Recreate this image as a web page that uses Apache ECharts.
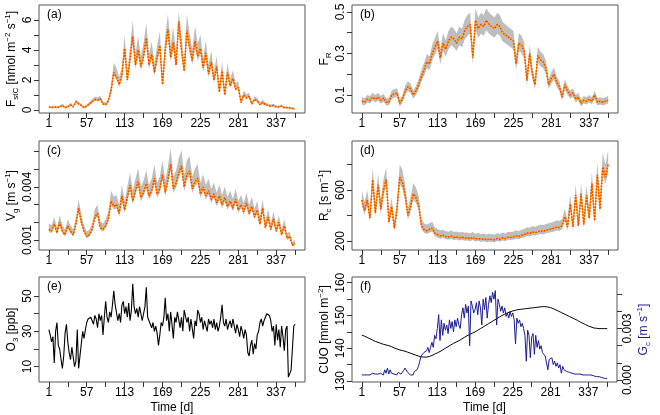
<!DOCTYPE html>
<html>
<head>
<meta charset="utf-8">
<title>ozone fluxes</title>
<script src="https://cdn.jsdelivr.net/npm/echarts@6.0.0/dist/echarts.min.js"></script>
<style>
    html, body { margin: 0; padding: 0; background: #fff; }
    #main { width: 660px; height: 415px; }
</style>
</head>
<body>
<div id="main"></div>
<script>
// day of year (every 4th day)
var days = [1,5,9,13,17,21,25,29,33,37,41,45,49,53,57,61,65,69,73,77,81,85,89,93,97,101,105,109,113,117,121,125,129,133,137,141,145,149,153,157,161,165,169,173,177,181,185,189,193,197,201,205,209,213,217,221,225,229,233,237,241,245,249,253,257,261,265,269,273,277,281,285,289,293,297,301,305,309,313,317,321,325,329,333,337,341,345,349,353,357,361,365];
// every 2nd day, for the ozone and G_c records
var days2 = [1,3,5,7,9,11,13,15,17,19,21,23,25,27,29,31,33,35,37,39,41,43,45,47,49,51,53,55,57,59,61,63,65,67,69,71,73,75,77,79,81,83,85,87,89,91,93,95,97,99,101,103,105,107,109,111,113,115,117,119,121,123,125,127,129,131,133,135,137,139,141,143,145,147,149,151,153,155,157,159,161,163,165,167,169,171,173,175,177,179,181,183,185,187,189,191,193,195,197,199,201,203,205,207,209,211,213,215,217,219,221,223,225,227,229,231,233,235,237,239,241,243,245,247,249,251,253,255,257,259,261,263,265,267,269,271,273,275,277,279,281,283,285,287,289,291,293,295,297,299,301,303,305,307,309,311,313,315,317,319,321,323,325,327,329,331,333,335,337,339,341,343,345,347,349,351,353,355,357,359,361,363,365];
var dayTicks = [1,29,57,85,113,141,169,197,225,253,281,309,337,365];
var dayLabels = [1,57,113,169,225,281,337];

// (a) F_stC [nmol m-2 s-1]
var fstMid = [0.2,0.15,0.2,0.15,0.2,0.3,0.15,0.2,0.35,0.2, 0.55,0.4,0.3,0.15,0.25,0.4,0.55,0.7,0.65,0.75, 0.4,0.35,0.6,1.3,2.5,2.2,1.7,2.3,4.1,2.0, 3.4,4.9,3.0,4.0,2.9,3.6,4.8,3.0,3.7,2.5, 3.5,4.3,1.7,4.0,5.4,3.5,4.5,3.0,5.9,4.0, 2.6,5.3,4.2,3.3,4.6,3.6,4.1,2.8,3.8,2.4, 3.2,2.0,2.9,1.2,2.6,1.0,2.5,1.6,2.1,1.4, 1.5,0.5,1.0,0.8,0.9,0.4,0.7,0.6,0.35,0.5, 0.35,0.3,0.25,0.3,0.2,0.2,0.25,0.15,0.15,0.12, 0.1,0.05];
var fstHi = [0.3,0.25,0.3,0.25,0.3,0.42,0.25,0.3,0.48,0.3, 0.72,0.55,0.42,0.25,0.36,0.55,0.72,0.9,0.84,0.95, 0.55,0.5,0.8,1.7,3.15,2.8,2.2,2.9,5.0,2.55, 4.2,5.95,3.75,4.9,3.6,4.45,5.8,3.75,4.55,3.1, 4.3,5.25,2.2,4.9,6.4,4.3,5.5,3.75,6.6,4.9, 3.25,6.4,5.1,4.05,5.6,4.45,5.0,3.45,4.65,3.0, 3.95,2.5,3.6,1.6,3.25,1.35,3.15,2.05,2.65,1.8, 1.9,0.7,1.3,1.05,1.15,0.55,0.92,0.8,0.5,0.68, 0.5,0.43,0.36,0.42,0.3,0.3,0.36,0.25,0.24,0.21, 0.18,0.12];
var fstLo = [0.17,0.13,0.17,0.13,0.17,0.26,0.13,0.17,0.31,0.17, 0.49,0.35,0.26,0.13,0.22,0.35,0.49,0.62,0.58,0.67, 0.35,0.31,0.53,1.17,2.28,2.0,1.54,2.1,3.75,1.82, 3.1,4.48,2.74,3.66,2.64,3.29,4.38,2.74,3.38,2.28, 3.2,3.93,1.55,3.66,4.93,3.2,4.11,2.74,5.39,3.66, 2.37,4.84,3.84,3.01,4.2,3.29,3.75,2.56,3.47,2.19, 2.92,1.82,2.65,1.09,2.37,0.91,2.28,1.46,1.92,1.28, 1.37,0.45,0.91,0.73,0.82,0.36,0.64,0.55,0.32,0.45, 0.32,0.27,0.22,0.27,0.18,0.18,0.22,0.13,0.13,0.1, 0.08,0.04];

// (b) F_R
var frMid = [0.07,0.065,0.08,0.075,0.09,0.08,0.09,0.075,0.085,0.065, 0.065,0.1,0.105,0.11,0.06,0.08,0.12,0.14,0.13,0.1, 0.12,0.15,0.19,0.22,0.26,0.25,0.3,0.33,0.36,0.28, 0.35,0.32,0.36,0.38,0.37,0.35,0.38,0.37,0.41,0.43, 0.44,0.28,0.46,0.42,0.44,0.43,0.46,0.44,0.43,0.42, 0.44,0.43,0.4,0.39,0.38,0.37,0.36,0.25,0.35,0.34, 0.31,0.17,0.3,0.2,0.15,0.29,0.27,0.26,0.23,0.15, 0.18,0.2,0.16,0.14,0.09,0.15,0.12,0.1,0.11,0.08, 0.09,0.06,0.075,0.07,0.08,0.07,0.1,0.065,0.07,0.065, 0.07,0.075];
var frHi = [0.089,0.084,0.1,0.095,0.111,0.1,0.111,0.095,0.106,0.084, 0.084,0.122,0.128,0.133,0.078,0.1,0.144,0.166,0.155,0.122, 0.144,0.177,0.221,0.254,0.298,0.287,0.342,0.375,0.408,0.32, 0.397,0.364,0.408,0.43,0.419,0.397,0.43,0.419,0.463,0.485, 0.496,0.32,0.518,0.474,0.496,0.485,0.518,0.496,0.485,0.474, 0.496,0.485,0.452,0.441,0.43,0.419,0.408,0.287,0.397,0.386, 0.353,0.199,0.342,0.232,0.177,0.331,0.309,0.298,0.265,0.177, 0.21,0.232,0.188,0.166,0.111,0.177,0.144,0.122,0.133,0.1, 0.111,0.078,0.095,0.089,0.1,0.089,0.122,0.084,0.089,0.084, 0.089,0.095];
var frLo = [0.054,0.05,0.064,0.059,0.073,0.064,0.073,0.059,0.068,0.05, 0.05,0.082,0.087,0.091,0.045,0.064,0.1,0.119,0.11,0.082, 0.1,0.128,0.165,0.192,0.229,0.22,0.266,0.294,0.321,0.248, 0.312,0.284,0.321,0.34,0.33,0.312,0.34,0.33,0.367,0.386, 0.395,0.248,0.413,0.376,0.395,0.386,0.413,0.395,0.386,0.376, 0.395,0.386,0.358,0.349,0.34,0.33,0.321,0.22,0.312,0.303, 0.275,0.146,0.266,0.174,0.128,0.257,0.238,0.229,0.202,0.128, 0.156,0.174,0.137,0.119,0.073,0.128,0.1,0.082,0.091,0.064, 0.073,0.045,0.059,0.054,0.064,0.054,0.082,0.05,0.054,0.05, 0.054,0.059];

// (c) V_g, in 0.001 m s-1
var vgMid = [1.6,1.5,1.9,1.4,2.0,1.5,1.3,1.8,1.5,1.3, 1.9,2.8,2.0,1.5,1.2,1.3,1.6,2.3,2.5,1.7, 1.6,1.8,2.2,3.2,2.9,3.0,2.5,3.5,2.7,3.4, 4.1,3.2,3.8,4.3,3.4,3.7,4.2,3.5,3.8,4.5, 3.6,3.9,4.7,3.7,4.4,5.3,3.9,4.2,4.8,5.2, 4.0,4.7,4.9,3.9,4.3,4.5,3.6,4.0,3.5,3.8, 3.3,3.6,3.1,3.5,3.0,3.4,2.9,3.2,2.8,3.3, 2.7,3.0,2.6,3.1,2.5,2.9,2.3,2.7,1.9,2.8, 1.7,2.3,1.6,2.2,1.5,2.0,1.3,1.8,1.1,1.2, 0.7,0.8];
var vgHi = [1.94,1.83,2.29,1.71,2.4,1.83,1.6,2.17,1.83,1.6, 2.29,3.32,2.4,1.83,1.48,1.6,1.94,2.75,2.98,2.06, 1.94,2.17,2.63,3.78,3.44,3.55,2.98,4.13,3.21,4.01, 4.82,3.78,4.47,5.05,4.01,4.36,4.93,4.13,4.47,5.28, 4.24,4.59,5.51,4.36,5.16,6.2,4.59,4.93,5.62,6.08, 4.7,5.51,5.74,4.59,5.05,5.28,4.24,4.7,4.13,4.47, 3.9,4.24,3.67,4.13,3.55,4.01,3.44,3.78,3.32,3.9, 3.21,3.55,3.09,3.67,2.98,3.44,2.75,3.21,2.29,3.32, 2.06,2.75,1.94,2.63,1.83,2.4,1.6,2.17,1.37,1.48, 0.9,1.02];
var vgLo = [1.47,1.38,1.76,1.28,1.85,1.38,1.19,1.66,1.38,1.19, 1.76,2.61,1.85,1.38,1.09,1.19,1.47,2.14,2.33,1.57, 1.47,1.66,2.04,2.99,2.71,2.8,2.33,3.28,2.52,3.18, 3.85,2.99,3.56,4.04,3.18,3.47,3.94,3.28,3.56,4.23, 3.37,3.66,4.42,3.47,4.13,4.99,3.66,3.94,4.51,4.89, 3.75,4.42,4.61,3.66,4.04,4.23,3.37,3.75,3.28,3.56, 3.09,3.37,2.9,3.28,2.8,3.18,2.71,2.99,2.61,3.09, 2.52,2.8,2.42,2.9,2.33,2.71,2.14,2.52,1.76,2.61, 1.57,2.14,1.47,2.04,1.38,1.85,1.19,1.66,1.0,1.09, 0.62,0.71];

// (d) R_c [s m-1]
var rcMid = [520,440,520,380,680,420,640,450,600,680, 350,470,300,450,700,660,560,400,470,570, 540,480,320,290,280,290,300,260,250,240, 245,235,230,240,228,232,225,230,222,225, 218,228,215,222,212,218,210,215,212,210, 220,214,225,218,230,228,232,240,235,245, 250,262,258,270,265,272,280,275,285,290, 295,300,310,305,320,390,310,490,310,560, 320,570,330,560,380,650,360,720,450,780, 700,800];
var rcHi = [597,508,597,441,777,485,732,519,687,777, 407,541,351,519,799,754,642,463,541,653, 620,553,373,340,329,340,351,306,295,284, 289,278,273,284,270,275,267,273,264,267, 259,270,256,264,252,259,250,256,252,250, 261,255,267,259,273,270,275,284,278,289, 295,308,304,317,312,320,329,323,334,340, 345,351,362,357,373,452,362,564,362,642, 373,653,385,642,441,743,418,821,519,889, 799,911];
var rcLo = [479,404,479,348,627,386,590,414,553,627, 321,432,274,414,646,609,516,367,432,525, 497,441,293,265,255,265,274,237,228,218, 223,214,209,218,207,211,204,209,201,204, 198,207,195,201,192,198,190,195,192,190, 200,194,204,198,209,207,211,218,214,223, 228,239,235,246,241,248,255,251,260,265, 269,274,283,279,293,358,283,451,283,516, 293,525,302,516,348,600,330,665,414,720, 646,739];

// (e) O3 [ppb], on days2
var o3 = [31,28,24,27,12,30,35,22,20,14, 9,16,29,34,24,18,14,21,22,10, 13,31,9,16,15,30,26,31,35,37, 36,38,38,34,39,37,32,40,36,39, 28,38,47,38,35,41,38,45,53,45, 46,36,40,35,45,47,40,44,38,46, 36,42,57,44,40,43,38,44,40,36, 35,44,55,38,36,34,32,35,30,33, 29,22,28,35,33,38,49,36,40,30, 41,34,26,38,35,41,40,32,38,30, 42,41,35,38,30,37,38,26,36,33, 42,40,35,38,31,36,33,30,37,34, 36,32,37,31,35,30,33,38,45,35, 33,37,31,34,36,32,37,33,29,34, 31,27,33,30,26,31,28,18,16,22, 25,17,23,20,28,30,35,37,33,36, 38,40,41,39,36,30,33,22,34,25, 31,21,33,27,19,31,33,4,5,8, 7,33,34];

// (f) CUO [mmol m-2] on days, G_c (0.001 m s-1) on days2
var cuo = [144,143.7,143.3,142.9,142.5,142.1,141.8,141.5,141.2,141.0, 140.8,140.5,140.1,139.8,139.5,139.3,139.1,138.8,138.5,138.2, 137.9,137.6,137.4,137.3,137.3,137.5,137.8,138.2,138.6,139.0, 139.5,140.0,140.5,141.0,141.5,141.9,142.3,142.8,143.3,143.8, 144.2,144.6,145.0,145.5,146.0,146.5,147.0,147.5,148.0,148.5, 149.0,149.5,150.0,150.4,150.8,151.1,151.4,151.6,151.8,151.9, 152.0,152.1,152.2,152.3,152.4,152.5,152.6,152.7,152.7,152.6, 152.4,152.1,151.7,151.3,150.9,150.5,150.1,149.7,149.3,148.9, 148.5,148.0,147.6,147.2,146.8,146.5,146.2,146.1,146.0,146.0, 146.0,146.0];
var gc = [0.3,0.35,0.3,0.4,0.3,0.35,0.3,0.35,0.4,0.3,0.35,0.3,0.35,0.3,0.4,
    0.5,0.3,0.6,0.4,0.7,0.35,0.6,0.4,0.3,0.35,0.3,0.3,0.45,0.5,0.35,0.3,0.55,0.7,0.6,0.45,0.35,
    0.3,0.35,0.3,0.5,0.4,0.6,0.8,1.1,1.4,1.3,
    1.6,1.5,1.7,1.9,1.6,1.9,2.2,1.9,2.6,2.4,
    3.0,3.8,2.3,3.5,2.6,3.3,2.9,3.2,2.7,3.5,
    3.0,3.4,2.8,3.5,3.1,3.6,3.2,3.0,3.8,4.2,
    3.6,4.4,3.9,4.3,2.0,4.6,4.3,3.9,4.1,4.5,
    3.8,4.6,4.2,3.2,4.7,4.1,4.8,3.6,4.4,4.9,
    4.5,5.1,4.7,5.2,3.2,4.7,4.4,4.0,4.3,3.9,
    4.2,3.7,3.9,3.6,4.0,3.7,3.9,3.5,2.1,3.6,
    3.3,3.5,3.1,3.3,3.0,2.6,1.1,2.9,2.6,1.3,
    2.5,2.7,1.5,2.6,1.9,2.3,1.8,2.0,1.6,1.7,
    1.4,1.5,0.6,1.2,1.1,1.3,0.9,1.1,0.8,1.0,
    0.7,0.9,0.4,0.8,0.6,0.7,0.5,0.6,0.45,0.5,
    0.4,0.45,0.35,0.4,0.35,0.3,0.35,0.3,0.3,0.25,
    0.3,0.25,0.3,0.25,0.3,0.25,0.25,0.3,0.2,0.2,
    0.2,0.15,0.15,0.15,0.1,0.1,0.1];

var FONT = 'Liberation Sans';
var BAND = '#bebebe';
var BLUE = '#1c1c96';

var rich = {
    n: { fontSize: 12, fontFamily: FONT, lineHeight: 16 },
    sub: { fontSize: 8, fontFamily: FONT, verticalAlign: 'bottom', lineHeight: 16 },
    sup: { fontSize: 8, fontFamily: FONT, verticalAlign: 'top', lineHeight: 16 }
};

function pairs(xs, arr) {
    return xs.map(function (d, i) { return [d, arr[i]]; });
}

// grid boxes (plot regions)
var boxes = [
    { left: 39, top: 5, width: 266, height: 108 },
    { left: 352, top: 5, width: 266, height: 108 },
    { left: 39, top: 141, width: 266, height: 109 },
    { left: 352, top: 141, width: 266, height: 109 },
    { left: 39, top: 277, width: 266, height: 109 },
    { left: 352, top: 277, width: 265, height: 108 }
];

var grid = boxes.map(function (b) {
    return {
        left: b.left, top: b.top, width: b.width, height: b.height,
        show: true, borderColor: '#555', borderWidth: 1, backgroundColor: 'transparent'
    };
});

var xAxis = boxes.map(function (b, i) {
    return {
        type: 'value', gridIndex: i, min: -13.56, max: 379.56,
        axisLine: { show: false, onZero: false },
        splitLine: { show: false },
        axisTick: { show: true, length: 5, customValues: dayTicks, lineStyle: { color: '#333' } },
        axisLabel: { customValues: dayLabels, fontSize: 12, fontFamily: FONT, color: '#000', margin: 5 },
        name: i >= 4 ? 'Time [d]' : '',
        nameLocation: 'middle', nameGap: 20,
        nameTextStyle: { fontSize: 12, fontFamily: FONT, color: '#000' }
    };
});

function yAx(i, o) {
    return {
        type: 'value', gridIndex: i, min: o.min, max: o.max, position: o.pos || 'left',
        axisLine: { show: false, onZero: false },
        splitLine: { show: false },
        axisTick: { show: true, length: 5, customValues: o.ticks, lineStyle: { color: '#333' } },
        axisLabel: {
            customValues: o.labels, rotate: 90, fontSize: 12, fontFamily: FONT, color: '#000', margin: 5,
            formatter: o.fmt
        },
        name: o.name, nameLocation: 'middle', nameRotate: 90, nameGap: o.gap,
        nameTextStyle: { rich: rich, color: o.nameColor || '#000' }
    };
}

function milli(v) { return (v / 1000).toFixed(3); }

var yAxis = [
    yAx(0, { min: -0.2, max: 7, ticks: [0, 1, 2, 3, 4, 5, 6], labels: [0, 2, 4, 6], gap: 19,
        name: '{n|F}{sub|stC}{n| [nmol m}{sup|\u22122}{n| s}{sup|\u22121}{n|]}' }),
    yAx(1, { min: 0.0133, max: 0.5337, ticks: [0.1, 0.2, 0.3, 0.4, 0.5], labels: [0.1, 0.3, 0.5], gap: 19,
        name: '{n|F}{sub|R}' }),
    yAx(2, { min: 0.434, max: 6.6, ticks: [1, 2, 3, 4, 5, 6], labels: [1, 4], gap: 19, fmt: milli,
        name: '{n|V}{sub|g}{n| [m s}{sup|\u22121}{n|]}' }),
    yAx(3, { min: 129.4, max: 984, ticks: [200, 400, 600, 800], labels: [200, 600], gap: 19,
        name: '{n|R}{sub|c}{n| [s m}{sup|\u22121}{n|]}' }),
    yAx(4, { min: 1.26, max: 60.8, ticks: [10, 20, 30, 40, 50], labels: [10, 30, 50], gap: 19,
        name: '{n|O}{sub|3}{n| [ppb]}' }),
    yAx(5, { min: 129.7, max: 161.75, ticks: [130, 135, 140, 145, 150, 155, 160], labels: [130, 140, 150, 160], gap: 19,
        name: '{n|CUO [mmol m}{sup|\u22122}{n|]}' }),
    yAx(5, { min: -0.11, max: 5.99, pos: 'right', ticks: [0, 1, 2, 3, 4, 5], labels: [0, 3], gap: 19, fmt: milli,
        nameColor: BLUE, name: '{n|G}{sub|c}{n| [m s}{sup|\u22121}{n|]}' })
];

// grey band (polygon hi -> lo) + dotted orange line
function bandSeries(i, lo, hi, mid) {
    return [
        {
            type: 'custom', xAxisIndex: i, yAxisIndex: i, clip: true, silent: true,
            data: [[days[0], mid[0]]],
            renderItem: function (params, api) {
                var pts = [];
                for (var k = 0; k < days.length; k++) pts.push(api.coord([days[k], hi[k]]));
                for (var j = days.length - 1; j >= 0; j--) pts.push(api.coord([days[j], lo[j]]));
                return { type: 'polygon', shape: { points: pts }, style: { fill: BAND } };
            }
        },
        { type: 'line', xAxisIndex: i, yAxisIndex: i, data: pairs(days, mid), showSymbol: false,
            lineStyle: { color: '#ffb000', width: 1.2 } },
        { type: 'line', xAxisIndex: i, yAxisIndex: i, data: pairs(days, mid), showSymbol: false,
            lineStyle: { color: '#ff3c00', width: 1.5, type: 'dotted' } }
    ];
}

var series = [].concat(
    bandSeries(0, fstLo, fstHi, fstMid),
    bandSeries(1, frLo, frHi, frMid),
    bandSeries(2, vgLo, vgHi, vgMid),
    bandSeries(3, rcLo, rcHi, rcMid),
    [
        { type: 'line', xAxisIndex: 4, yAxisIndex: 4, data: pairs(days2, o3), showSymbol: false,
            lineStyle: { color: '#000', width: 1.1 } },
        { type: 'line', xAxisIndex: 5, yAxisIndex: 5, data: pairs(days, cuo), showSymbol: false,
            lineStyle: { color: '#000', width: 1 } },
        { type: 'line', xAxisIndex: 5, yAxisIndex: 6, data: pairs(days2, gc), showSymbol: false,
            lineStyle: { color: BLUE, width: 1 } }
    ]
);

// panel letters
var letters = ['(a)', '(b)', '(c)', '(d)', '(e)', '(f)'];
var graphic = boxes.map(function (b, i) {
    return {
        type: 'text', left: b.left + 8, top: b.top + 4, z: 100,
        style: { text: letters[i], fontSize: 12, fontFamily: FONT, fill: '#000' }
    };
});

var chart = echarts.init(document.getElementById('main'), null, { renderer: 'canvas' });
chart.setOption({
    animation: false,
    backgroundColor: '#fff',
    grid: grid,
    xAxis: xAxis,
    yAxis: yAxis,
    series: series,
    graphic: graphic
});
</script>
</body>
</html>
